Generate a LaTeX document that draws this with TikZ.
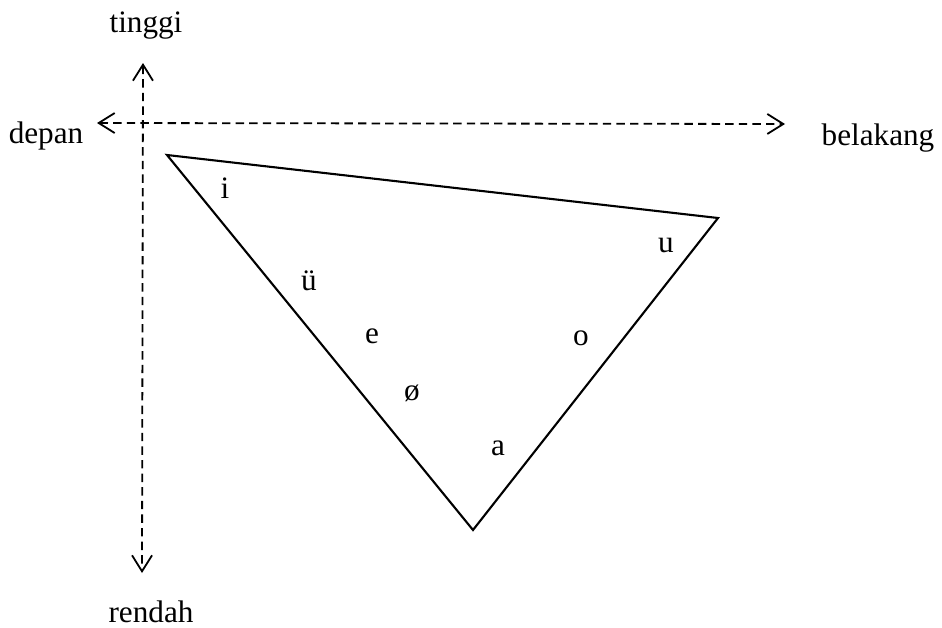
\documentclass[tikz,border=0pt]{standalone}
\usepackage{fontspec}
\setmainfont{Liberation Serif}
\usetikzlibrary{arrows.meta}

\begin{document}
\begin{tikzpicture}[
  x=0.5pt, y=-0.5pt,
  axislbl/.style={
    font=\fontsize{15.6}{18}\selectfont,
    anchor=base, inner sep=0pt
  },
  vowel/.style={
    font=\fontsize{15.6}{18}\selectfont,
    anchor=base, inner sep=0pt
  },
  axis/.style={
    {Straight Barb[length=8pt,width=10pt]}-{Straight Barb[length=8pt,width=10pt]},
    line width=0.9pt, dash pattern=on 4.2pt off 2.6pt
  },
  tri/.style={line width=1.05pt, line join=miter}
]
\useasboundingbox (0,0) rectangle (942,627);

%% Sumbu depan -- belakang dan tinggi -- rendah
\coordinate (hL) at (97,123);
\coordinate (hR) at (785,124);
\coordinate (vT) at (143,63);
\coordinate (vB) at (142,573);

\draw[axis] (hL) -- (hR);
\draw[axis] (vT) -- (vB);

\node[axislbl] (depan) at (46,143) {depan};
\node[axislbl] (belakang) at (878,145) {belakang};
\node[axislbl] (tinggi) at (146,32) {tinggi};
\node[axislbl] (rendah) at (151,622) {rendah};

%% Segitiga vokal
\coordinate (vi) at (167,155);
\coordinate (vu) at (718,218);
\coordinate (va) at (473,530);
\draw[tri] (vi) -- (vu) -- (va) -- cycle;

\node[vowel] (i) at (225,198) {i};
\node[vowel] (uu) at (309,290) {ü};
\node[vowel] (e) at (372,343) {e};
\node[vowel] (oe) at (412,400) {ø};
\node[vowel] (a) at (498,455) {a};
\node[vowel] (o) at (581,345) {o};
\node[vowel] (u) at (666,252) {u};

\end{tikzpicture}
\end{document}
